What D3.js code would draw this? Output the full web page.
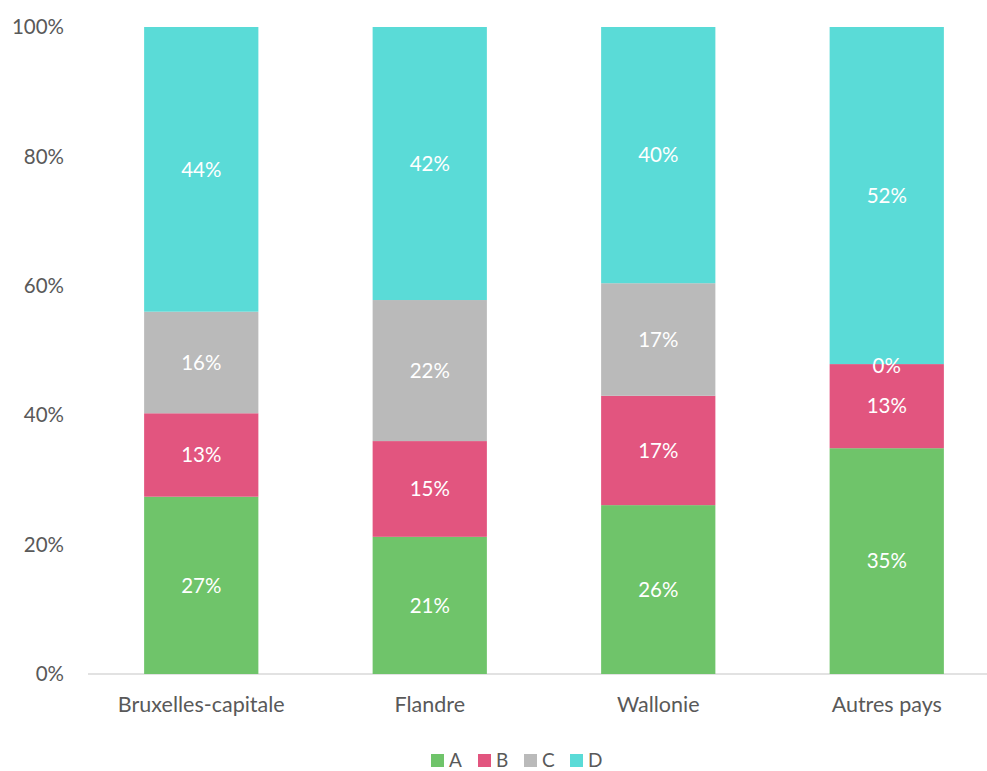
<!DOCTYPE html>
<html lang="fr">
<head>
<meta charset="UTF-8">
<title>Répartition par région</title>
<script src="https://cdn.jsdelivr.net/npm/d3@7"></script>
<style>
  body { margin: 0; background: #fff; }
  text { font-family: Lato, "Open Sans", sans-serif; }
</style>
</head>
<body>
<svg id="chart" width="987" height="771"></svg>
<script>
// data
const categories = ["Bruxelles-capitale", "Flandre", "Wallonie", "Autres pays"];
const seriesNames = ["A", "B", "C", "D"];
const valA = [27.4, 21.2, 26.1, 34.9];
const valB = [12.9, 14.8, 16.9, 13.0];
const valC = [15.7, 21.8, 17.4, 0.0];
const valD = [44.0, 42.2, 39.6, 52.1];
const yTicks = [0, 20, 40, 60, 80, 100];
const colors = ["#6fc46a", "#e2557f", "#bababa", "#5adbd7"];

const svg = d3.select("#chart");

const rows = categories.map((c, i) => ({cat: c, A: valA[i], B: valB[i], C: valC[i], D: valD[i]}));
const stack = d3.stack().keys(seriesNames)(rows);

const x = d3.scaleBand().domain(categories).range([87, 1001])
   .paddingInner(0.5).paddingOuter(0.25);
const y = d3.scaleLinear().domain([0, 100]).range([674, 27]);

// axis baseline
svg.append("line")
   .attr("x1", 88).attr("x2", 987)
   .attr("y1", y(0)).attr("y2", y(0))
   .attr("stroke", "#d9d9d9").attr("stroke-width", 1.3);

// y tick labels
svg.selectAll(".ytick").data(yTicks).join("text")
   .attr("x", 64).attr("y", d => y(d))
   .attr("dy", "0.35em")
   .attr("text-anchor", "end")
   .attr("fill", "#595959")
   .attr("font-size", 20.5)
   .text(d => d + "%");

// x labels
svg.selectAll(".xlab").data(categories).join("text")
   .attr("x", d => x(d) + x.bandwidth() / 2)
   .attr("y", 712)
   .attr("text-anchor", "middle")
   .attr("fill", "#595959")
   .attr("font-size", 21.5)
   .text(d => d);

// bars
const layer = svg.selectAll(".layer").data(stack).join("g")
   .attr("fill", (d, i) => colors[i]);

layer.selectAll("rect").data(d => d).join("rect")
   .attr("x", d => x(d.data.cat))
   .attr("width", x.bandwidth())
   .attr("y", d => y(d[1]))
   .attr("height", d => y(d[0]) - y(d[1]));

// value labels, drawn after all bars
const labels = stack.flatMap(s => s.map(v => ({cat: v.data.cat, lo: v[0], hi: v[1]})));
svg.append("g").selectAll("text").data(labels).join("text")
   .attr("x", d => x(d.cat) + x.bandwidth() / 2)
   .attr("y", d => y((d.lo + d.hi) / 2) + (d.hi - d.lo < 1 ? 2 : 0))
   .attr("dy", "0.35em")
   .attr("text-anchor", "middle")
   .attr("fill", "#fff")
   .attr("font-size", 20.5)
   .text(d => Math.round(d.hi - d.lo) + "%");

// legend
const legendX = [431, 478, 524, 570];
const lg = svg.selectAll(".leg").data(seriesNames).join("g")
   .attr("transform", (d, i) => `translate(${legendX[i]},754)`);
lg.append("rect").attr("width", 13).attr("height", 13).attr("fill", (d, i) => colors[i]);
lg.append("text").attr("x", 18).attr("y", 6.5).attr("dy", "0.35em")
   .attr("fill", "#595959").attr("font-size", 19).text(d => d);
</script>
</body>
</html>
